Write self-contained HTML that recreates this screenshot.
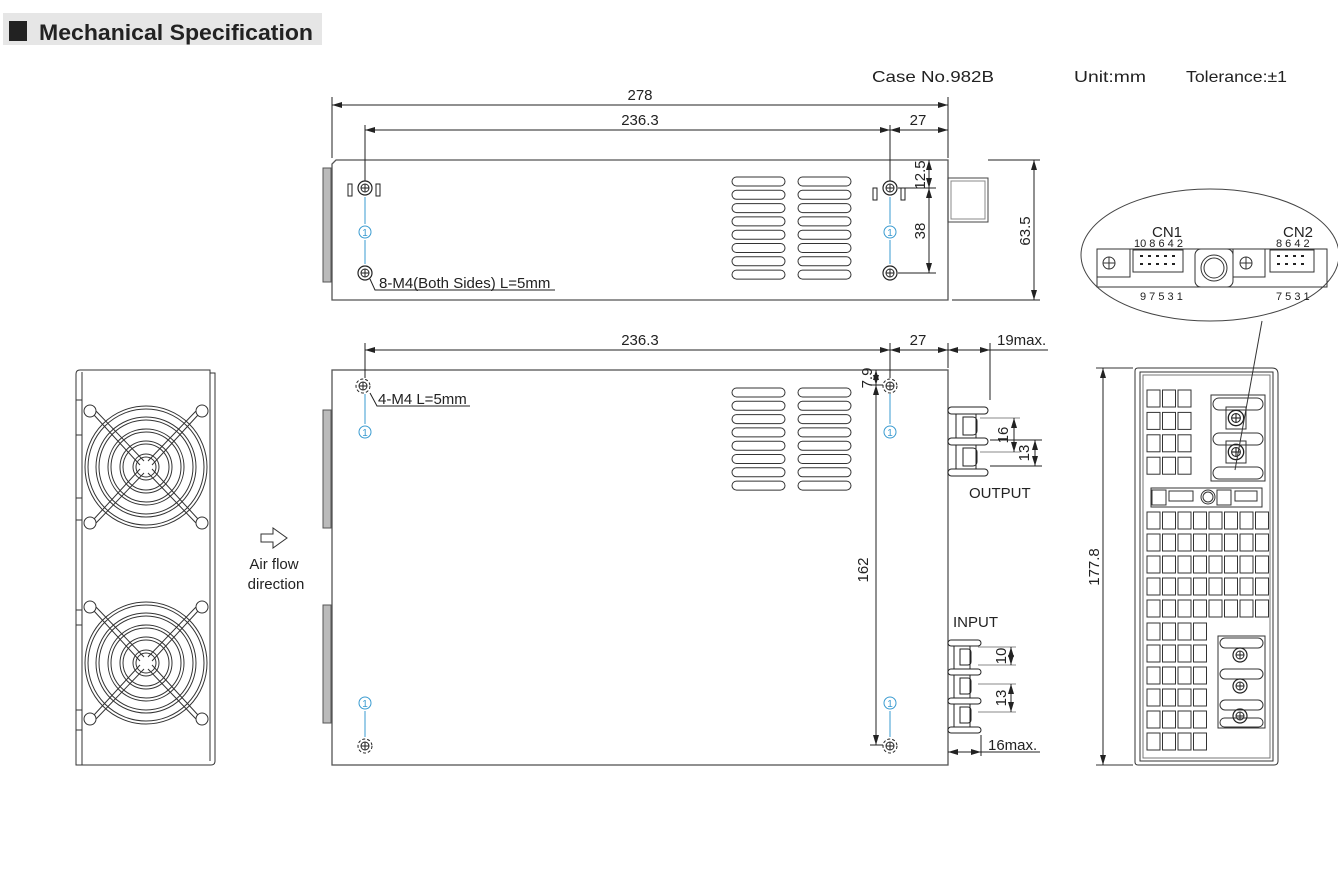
<!DOCTYPE html>
<html><head><meta charset="utf-8"><style>
html,body{margin:0;padding:0;background:#fff;}
svg{display:block;}
text{font-family:"Liberation Sans",sans-serif;fill:#222;}
</style></head><body>
<svg width="1338" height="871" viewBox="0 0 1338 871" xmlns="http://www.w3.org/2000/svg">
<defs>
<marker id="ar" viewBox="0 0 10 6" refX="10" refY="3" markerWidth="10" markerHeight="6" orient="auto-start-reverse" markerUnits="userSpaceOnUse"><path d="M0,0 L10,3 L0,6 z" fill="#222"/></marker>
<g id="vent"><rect x="0" y="0" width="53" height="9" rx="4.5" fill="none" stroke="#333" stroke-width="1"/></g>
<g id="vcol"><use href="#vent" y="0"/><use href="#vent" y="13.3"/><use href="#vent" y="26.6"/><use href="#vent" y="39.9"/><use href="#vent" y="53.2"/><use href="#vent" y="66.5"/><use href="#vent" y="79.8"/><use href="#vent" y="93.1"/></g>
<g id="scr"><circle r="7" fill="none" stroke="#222" stroke-width="1.2"/><circle r="4" fill="none" stroke="#222"/><line x1="-4" y1="0" x2="4" y2="0" stroke="#222"/><line x1="0" y1="-4" x2="0" y2="4" stroke="#222"/></g>
<g id="scrd"><circle r="7" fill="none" stroke="#222" stroke-dasharray="3,2"/><circle r="4" fill="none" stroke="#222"/><line x1="-4" y1="0" x2="4" y2="0" stroke="#222"/><line x1="0" y1="-4" x2="0" y2="4" stroke="#222"/></g>
<g id="sq"><rect width="13" height="17" fill="none" stroke="#333" stroke-width="1"/></g>
<g id="r3"><use href="#sq" x="0"/><use href="#sq" x="15.5"/><use href="#sq" x="31"/></g>
<g id="r4"><use href="#r3"/><use href="#sq" x="46.5"/></g>
<g id="r8"><use href="#r4"/><use href="#r4" x="62"/></g>
<g id="fan">
 <circle r="61" fill="none" stroke="#333" stroke-width="1"/><circle r="58" fill="none" stroke="#333"/>
 <circle r="50" fill="none" stroke="#333"/><circle r="47" fill="none" stroke="#333"/>
 <circle r="38" fill="none" stroke="#333"/><circle r="35" fill="none" stroke="#333"/>
 <circle r="26" fill="none" stroke="#333"/><circle r="23" fill="none" stroke="#333"/>
 <circle r="13" fill="none" stroke="#333"/><circle r="10" fill="none" stroke="#333"/>
 <path d="M-52,-52 L-6,-2 M-50,-56 L-2,-6 M52,-52 L6,-2 M50,-56 L2,-6 M-52,52 L-6,2 M-50,56 L-2,6 M52,52 L6,2 M50,56 L2,6" stroke="#333" fill="none"/>
 <circle cx="-56" cy="-56" r="6" fill="#fff" stroke="#333"/><circle cx="56" cy="-56" r="6" fill="#fff" stroke="#333"/>
 <circle cx="-56" cy="56" r="6" fill="#fff" stroke="#333"/><circle cx="56" cy="56" r="6" fill="#fff" stroke="#333"/>
</g>
<g id="tscr"><rect x="-10" y="-11" width="20" height="22" fill="none" stroke="#333"/><use href="#scr" transform="scale(1.1)"/></g>
</defs>

<!-- header -->
<rect x="3" y="13" width="319" height="32" fill="#e6e6e6"/>
<rect x="9" y="21" width="18" height="20" fill="#222"/>
<text x="39" y="40" font-size="22" font-weight="bold" textLength="274" lengthAdjust="spacingAndGlyphs">Mechanical Specification</text>

<text x="872" y="82" font-size="16" textLength="122" lengthAdjust="spacingAndGlyphs">Case No.982B</text>
<text x="1074" y="82" font-size="16" textLength="72" lengthAdjust="spacingAndGlyphs">Unit:mm</text>
<text x="1186" y="82" font-size="16" textLength="101" lengthAdjust="spacingAndGlyphs">Tolerance:±1</text>

<g stroke="#222" stroke-width="1" fill="none">
<!-- TOP VIEW -->
<path d="M336,160 L948,160 L948,300 L332,300 L332,164 Z" stroke="#555" stroke-width="1.3"/>
<rect x="323" y="168" width="8" height="114" fill="#bbb" stroke="#555"/>
<rect x="948" y="178" width="40" height="44" stroke="#444"/>
<rect x="951" y="181" width="34" height="38" stroke="#888"/>
<line x1="332" y1="97" x2="332" y2="158"/><line x1="948" y1="97" x2="948" y2="158"/>
<line x1="332" y1="105" x2="948" y2="105" marker-start="url(#ar)" marker-end="url(#ar)"/>
<line x1="365" y1="125" x2="365" y2="181"/><line x1="890" y1="125" x2="890" y2="181"/>
<line x1="365" y1="130" x2="890" y2="130" marker-start="url(#ar)" marker-end="url(#ar)"/>
<line x1="890" y1="130" x2="948" y2="130" marker-start="url(#ar)" marker-end="url(#ar)"/>
<line x1="898" y1="188" x2="936" y2="188"/><line x1="898" y1="273" x2="936" y2="273"/>
<line x1="929" y1="160" x2="929" y2="188" marker-start="url(#ar)" marker-end="url(#ar)"/>
<line x1="929" y1="188" x2="929" y2="273" marker-start="url(#ar)" marker-end="url(#ar)"/>
<line x1="988" y1="160" x2="1040" y2="160"/><line x1="952" y1="300" x2="1040" y2="300"/>
<line x1="1034" y1="160" x2="1034" y2="300" marker-start="url(#ar)" marker-end="url(#ar)"/>
<rect x="348" y="184" width="4" height="12"/><rect x="376" y="184" width="4" height="12"/>
<rect x="873" y="188" width="4" height="12"/><rect x="901" y="188" width="4" height="12"/>
<path d="M370,279 L375,290 L555,290"/>
</g>
<use href="#vcol" x="732" y="177"/><use href="#vcol" x="798" y="177"/>
<use href="#scr" x="365" y="188"/><use href="#scr" x="365" y="273"/><use href="#scr" x="890" y="188"/><use href="#scr" x="890" y="273"/>
<g stroke="#3a9bd0" fill="none"><line x1="365" y1="197" x2="365" y2="224"/><line x1="365" y1="240" x2="365" y2="264"/><line x1="890" y1="197" x2="890" y2="224"/><line x1="890" y1="240" x2="890" y2="264"/>
<line x1="365" y1="394" x2="365" y2="424"/><line x1="890" y1="394" x2="890" y2="424"/><line x1="365" y1="711" x2="365" y2="737"/><line x1="890" y1="711" x2="890" y2="737"/></g>
<g font-size="12" fill="#3a9bd0" text-anchor="middle">
<circle cx="365" cy="232" r="6" fill="none" stroke="#3a9bd0"/><text x="365" y="236" font-size="10" style="fill:#3a9bd0">1</text>
<circle cx="890" cy="232" r="6" fill="none" stroke="#3a9bd0"/><text x="890" y="236" font-size="10" style="fill:#3a9bd0">1</text>
<circle cx="365" cy="432" r="6" fill="none" stroke="#3a9bd0"/><text x="365" y="436" font-size="10" style="fill:#3a9bd0">1</text>
<circle cx="890" cy="432" r="6" fill="none" stroke="#3a9bd0"/><text x="890" y="436" font-size="10" style="fill:#3a9bd0">1</text>
<circle cx="365" cy="703" r="6" fill="none" stroke="#3a9bd0"/><text x="365" y="707" font-size="10" style="fill:#3a9bd0">1</text>
<circle cx="890" cy="703" r="6" fill="none" stroke="#3a9bd0"/><text x="890" y="707" font-size="10" style="fill:#3a9bd0">1</text>
</g>
<g font-size="15">
<text x="640" y="100" text-anchor="middle">278</text>
<text x="640" y="125" text-anchor="middle">236.3</text>
<text x="918" y="125" text-anchor="middle">27</text>
<text x="379" y="288">8-M4(Both Sides) L=5mm</text>
<text transform="translate(925,175) rotate(-90)" text-anchor="middle">12.5</text>
<text transform="translate(925,231) rotate(-90)" text-anchor="middle">38</text>
<text transform="translate(1030,231) rotate(-90)" text-anchor="middle">63.5</text>
</g>

<!-- FRONT VIEW -->
<g stroke="#222" stroke-width="1" fill="none">
<rect x="332" y="370" width="616" height="395" stroke="#555" stroke-width="1.3"/>
<rect x="323" y="410" width="8" height="118" fill="#bbb" stroke="#555"/>
<rect x="323" y="605" width="8" height="118" fill="#bbb" stroke="#555"/>
<line x1="365" y1="343" x2="365" y2="378"/><line x1="890" y1="343" x2="890" y2="378"/>
<line x1="948" y1="343" x2="948" y2="368"/><line x1="990" y1="343" x2="990" y2="400"/>
<line x1="365" y1="350" x2="890" y2="350" marker-start="url(#ar)" marker-end="url(#ar)"/>
<line x1="890" y1="350" x2="948" y2="350" marker-start="url(#ar)" marker-end="url(#ar)"/>
<line x1="948" y1="350" x2="990" y2="350" marker-start="url(#ar)" marker-end="url(#ar)"/>
<line x1="990" y1="350" x2="1048" y2="350"/>
<line x1="870" y1="385" x2="883" y2="385"/><line x1="870" y1="745" x2="883" y2="745"/>
<line x1="876" y1="370" x2="876" y2="385" marker-start="url(#ar)" marker-end="url(#ar)"/>
<line x1="876" y1="385" x2="876" y2="745" marker-start="url(#ar)" marker-end="url(#ar)"/>
<path d="M370,393 L377,406 L470,406"/>
<!-- output terminal -->
<rect x="948" y="407" width="40" height="7" rx="3.5" fill="#fff"/>
<rect x="948" y="438" width="40" height="7" rx="3.5" fill="#fff"/>
<rect x="948" y="469" width="40" height="7" rx="3.5" fill="#fff"/>
<rect x="956" y="414" width="20" height="24"/><path d="M963,417 h10 a4,4 0 0 1 4,4 v10 a4,4 0 0 1 -4,4 h-10 z"/>
<rect x="956" y="445" width="20" height="24"/><path d="M963,448 h10 a4,4 0 0 1 4,4 v10 a4,4 0 0 1 -4,4 h-10 z"/>
<line x1="980" y1="418" x2="1020" y2="418" stroke="#888"/><line x1="980" y1="452" x2="1020" y2="452" stroke="#888"/>
<line x1="990" y1="440" x2="1042" y2="440"/><line x1="990" y1="466" x2="1042" y2="466"/>
<line x1="1014" y1="418" x2="1014" y2="452" marker-start="url(#ar)" marker-end="url(#ar)"/>
<line x1="1035" y1="440" x2="1035" y2="466" marker-start="url(#ar)" marker-end="url(#ar)"/>
<!-- input terminal -->
<rect x="948" y="640" width="33" height="6" rx="3" fill="#fff"/>
<rect x="948" y="669" width="33" height="6" rx="3" fill="#fff"/>
<rect x="948" y="698" width="33" height="6" rx="3" fill="#fff"/>
<rect x="948" y="727" width="33" height="6" rx="3" fill="#fff"/>
<rect x="954" y="646" width="16" height="23"/><path d="M960,649 h8 a3,3 0 0 1 3,3 v10 a3,3 0 0 1 -3,3 h-8 z"/>
<rect x="954" y="675" width="16" height="23"/><path d="M960,678 h8 a3,3 0 0 1 3,3 v10 a3,3 0 0 1 -3,3 h-8 z"/>
<rect x="954" y="704" width="16" height="23"/><path d="M960,707 h8 a3,3 0 0 1 3,3 v10 a3,3 0 0 1 -3,3 h-8 z"/>
<line x1="978" y1="647" x2="1016" y2="647" stroke="#888"/><line x1="978" y1="665" x2="1016" y2="665" stroke="#888"/>
<line x1="978" y1="684" x2="1016" y2="684" stroke="#888"/><line x1="978" y1="712" x2="1016" y2="712" stroke="#888"/>
<line x1="1011" y1="647" x2="1011" y2="665" marker-start="url(#ar)" marker-end="url(#ar)"/>
<line x1="1011" y1="684" x2="1011" y2="712" marker-start="url(#ar)" marker-end="url(#ar)"/>
<line x1="981" y1="735" x2="981" y2="756"/>
<line x1="948" y1="752" x2="981" y2="752" marker-start="url(#ar)" marker-end="url(#ar)"/>
<line x1="981" y1="752" x2="1040" y2="752"/>
</g>
<use href="#vcol" x="732" y="388"/><use href="#vcol" x="798" y="388"/>
<use href="#scrd" x="363" y="386"/><use href="#scrd" x="890" y="386"/><use href="#scrd" x="365" y="746"/><use href="#scrd" x="890" y="746"/>
<g font-size="15">
<text x="640" y="345" text-anchor="middle">236.3</text>
<text x="918" y="345" text-anchor="middle">27</text>
<text x="997" y="345">19max.</text>
<text x="378" y="404">4-M4 L=5mm</text>
<text transform="translate(872,378) rotate(-90)" text-anchor="middle">7.9</text>
<text transform="translate(868,570) rotate(-90)" text-anchor="middle">162</text>
<text transform="translate(1008,435) rotate(-90)" text-anchor="middle">16</text>
<text transform="translate(1029,453) rotate(-90)" text-anchor="middle">13</text>
<text x="969" y="498">OUTPUT</text>
<text x="953" y="627">INPUT</text>
<text transform="translate(1006,656) rotate(-90)" text-anchor="middle">10</text>
<text transform="translate(1006,698) rotate(-90)" text-anchor="middle">13</text>
<text x="988" y="750">16max.</text>
</g>

<!-- LEFT END VIEW -->
<g stroke="#333" fill="none">
<path d="M80,370 L210,370 L210,373 L215,373 L215,761 Q215,765 211,765 L76,765 L76,374 Q76,370 80,370 Z"/>
<line x1="82" y1="372" x2="82" y2="765"/>
<line x1="210" y1="373" x2="210" y2="761"/>
<path d="M76,400 h6 M76,435 h6 M76,498 h6 M76,520 h6 M76,610 h6 M76,625 h6 M76,710 h6 M76,730 h6"/>
</g>
<use href="#fan" x="146" y="467"/>
<use href="#fan" x="146" y="663"/>
<path d="M261,534 h12 v-6 l14,10 l-14,10 v-6 h-12 z" fill="none" stroke="#333"/>
<text x="274" y="569" font-size="15" text-anchor="middle">Air flow</text>
<text x="276" y="589" font-size="15" text-anchor="middle">direction</text>

<!-- RIGHT END VIEW -->
<g stroke="#333" fill="none">
<path d="M1138,368 L1272,368 Q1278,368 1278,374 L1278,761 Q1278,765 1274,765 L1138,765 Q1135,765 1135,762 L1135,371 Q1135,368 1138,368 Z"/>
<rect x="1140" y="372" width="133" height="389"/>
<rect x="1143" y="375" width="127" height="383" stroke="#777"/>
<line x1="1096" y1="368" x2="1133" y2="368"/><line x1="1096" y1="765" x2="1133" y2="765"/>
<line x1="1103" y1="368" x2="1103" y2="765" stroke="#222" marker-start="url(#ar)" marker-end="url(#ar)"/>
<!-- top terminal block -->
<rect x="1211" y="395" width="54" height="86"/>
<rect x="1213" y="398" width="50" height="12" rx="6"/>
<rect x="1213" y="433" width="50" height="12" rx="6"/>
<rect x="1213" y="467" width="50" height="12" rx="6"/>
<!-- connector strip -->
<rect x="1151" y="488" width="111" height="19"/>
<rect x="1152" y="490" width="14" height="15"/>
<rect x="1169" y="491" width="24" height="10"/>
<circle cx="1208" cy="497" r="7"/><circle cx="1208" cy="497" r="5"/>
<rect x="1217" y="490" width="14" height="15"/>
<rect x="1235" y="491" width="22" height="10"/>
<!-- bottom terminal block -->
<rect x="1218" y="636" width="47" height="92"/>
<rect x="1220" y="638" width="43" height="10" rx="5"/>
<rect x="1220" y="669" width="43" height="10" rx="5"/>
<rect x="1220" y="700" width="43" height="10" rx="5"/>
<rect x="1220" y="718" width="43" height="9" rx="4.5"/>
</g>
<use href="#tscr" x="1236" y="418"/><use href="#tscr" x="1236" y="452"/>
<use href="#scr" x="1240" y="655"/><use href="#scr" x="1240" y="686"/><use href="#scr" x="1240" y="716"/>
<g transform="translate(1147,390)">
<use href="#r3" y="0"/><use href="#r3" y="22.4"/><use href="#r3" y="44.8"/><use href="#r3" y="67.2"/>
<use href="#r8" y="122"/><use href="#r8" y="144"/><use href="#r8" y="166"/><use href="#r8" y="188"/><use href="#r8" y="210"/>
<use href="#r4" y="233"/><use href="#r4" y="255"/><use href="#r4" y="277"/><use href="#r4" y="299"/><use href="#r4" y="321"/><use href="#r4" y="343"/>
</g>
<text transform="translate(1099,567) rotate(-90)" font-size="15" text-anchor="middle">177.8</text>

<!-- callout -->
<ellipse cx="1210" cy="255" rx="129" ry="66" fill="#fff" stroke="#444"/>
<line x1="1262" y1="321" x2="1235" y2="470" stroke="#333"/>
<g stroke="#333" fill="none">
<rect x="1097" y="249" width="230" height="38"/>
<rect x="1097" y="249" width="33" height="28"/>
<circle cx="1109" cy="263" r="6"/><path d="M1103,263 h12 M1109,257 v12"/>
<rect x="1133" y="250" width="50" height="22"/>
<rect x="1195" y="249" width="38" height="38" rx="6"/>
<circle cx="1214" cy="268" r="13"/><circle cx="1214" cy="268" r="10"/>
<rect x="1233" y="249" width="32" height="28"/>
<circle cx="1246" cy="263" r="6"/><path d="M1240,263 h12 M1246,257 v12"/>
<rect x="1270" y="250" width="44" height="22"/>
</g>
<g fill="#222">
<rect x="1140" y="255" width="3" height="2"/><rect x="1148" y="255" width="3" height="2"/><rect x="1156" y="255" width="3" height="2"/><rect x="1164" y="255" width="3" height="2"/><rect x="1172" y="255" width="3" height="2"/>
<rect x="1140" y="263" width="3" height="2"/><rect x="1148" y="263" width="3" height="2"/><rect x="1156" y="263" width="3" height="2"/><rect x="1164" y="263" width="3" height="2"/><rect x="1172" y="263" width="3" height="2"/>
<rect x="1277" y="255" width="3" height="2"/><rect x="1285" y="255" width="3" height="2"/><rect x="1293" y="255" width="3" height="2"/><rect x="1301" y="255" width="3" height="2"/>
<rect x="1277" y="263" width="3" height="2"/><rect x="1285" y="263" width="3" height="2"/><rect x="1293" y="263" width="3" height="2"/><rect x="1301" y="263" width="3" height="2"/>
</g>
<text x="1167" y="237" font-size="15" text-anchor="middle">CN1</text>
<text x="1298" y="237" font-size="15" text-anchor="middle">CN2</text>
<text x="1134" y="247" font-size="11">10 8 6 4 2</text>
<text x="1276" y="247" font-size="11">8 6 4 2</text>
<text x="1140" y="300" font-size="11">9 7 5 3 1</text>
<text x="1276" y="300" font-size="11">7 5 3 1</text>
</svg>
</body></html>
